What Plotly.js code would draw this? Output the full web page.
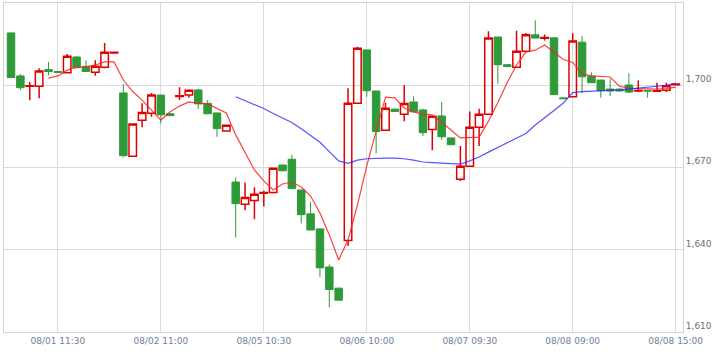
<!DOCTYPE html>
<html>
<head>
<meta charset="utf-8">
<script src="https://cdn.plot.ly/plotly-3.0.1.min.js"></script>
<style>
html,body{margin:0;padding:0;background:#fff;}
#chart{width:724px;height:363px;}
</style>
</head>
<body>
<div id="chart"></div>
<script>
// --- categories (30-minute bars) ---
const days = ['08/01','08/02','08/05','08/06','08/07','08/08'];
const slots = ['09:00','09:30','10:00','10:30','11:00','11:30','12:30','13:00','13:30','14:00','14:30','15:00'];
const times = [];
days.forEach(d => slots.forEach(s => times.push(d + ' ' + s)));

const tickLabels = ['08/01 11:30','08/02 11:00','08/05 10:30','08/06 10:00','08/07 09:30','08/08 09:00','08/08 15:00'];
const priceTicks = [1610, 1640, 1670, 1700];
const priceTickText = ['1,610','1,640','1,670','1,700'];

// --- OHLC values ---
const open = [1719.1,1703.4,1699.6,1699.6,1705.7,1705.0,1704.6,1710.3,1706.9,1704.7,1706.6,1711.8,
  1697.2,1674.1,1687.2,1689.8,1696.4,1689.6,1695.9,1696.4,1698.3,1693.4,1689.9,1683.3,
  1664.7,1656.6,1658.0,1660.6,1660.9,1670.9,1673.0,1661.8,1653.1,1647.6,1633.7,1626.0,
  1643.4,1693.4,1712.9,1697.9,1683.6,1691.3,1689.4,1693.9,1691.0,1683.9,1688.8,1680.8,
  1665.7,1670.5,1684.7,1689.4,1717.6,1707.5,1706.6,1712.4,1718.4,1717.1,1717.3,1695.4,
  1695.8,1715.7,1703.3,1701.9,1698.6,1698.6,1700.1,1697.9,1698.1,1697.8,1698.2,1700.2];
const high = [1719.1,1704.1,1701.2,1706.2,1708.5,1705.0,1711.4,1710.7,1709.1,1709.1,1715.4,1712.0,
  1700.4,1686.1,1693.4,1697.2,1696.4,1689.6,1699.3,1698.5,1698.7,1694.6,1689.9,1685.4,
  1666.4,1664.5,1662.8,1661.5,1669.7,1671.0,1674.6,1661.8,1657.5,1647.6,1634.7,1626.0,
  1698.9,1714.0,1712.9,1697.9,1693.6,1691.3,1700.0,1696.0,1691.5,1688.7,1693.9,1680.8,
  1677.8,1690.4,1691.4,1719.7,1717.6,1707.5,1719.9,1719.1,1723.7,1718.5,1717.3,1695.4,
  1719.0,1718.0,1704.7,1701.9,1702.3,1698.8,1704.4,1701.7,1698.1,1700.9,1700.9,1700.6];
const low = [1702.8,1698.2,1694.5,1695.3,1703.6,1704.6,1704.6,1706.4,1705.0,1703.5,1706.2,1711.8,
  1673.7,1674.1,1684.7,1688.5,1686.0,1688.9,1694.6,1695.4,1691.4,1689.4,1681.2,1683.3,
  1644.5,1654.4,1651.1,1655.8,1660.5,1668.6,1662.3,1649.6,1647.2,1630.1,1619.0,1621.6,
  1641.4,1693.4,1695.8,1675.2,1683.6,1690.4,1686.9,1690.3,1681.4,1676.3,1680.0,1678.3,
  1665.1,1670.5,1677.8,1689.4,1700.5,1706.8,1706.6,1712.4,1717.2,1716.3,1696.6,1695.1,
  1695.8,1697.1,1700.9,1695.5,1696.0,1697.7,1697.1,1697.5,1695.5,1697.6,1697.5,1700.1];
const close = [1702.8,1699.1,1699.8,1705.2,1705.0,1704.7,1710.6,1706.4,1705.0,1706.9,1712.0,1712.0,
  1674.3,1685.9,1690.1,1696.4,1689.2,1688.9,1696.2,1698.2,1693.2,1689.6,1684.2,1685.4,
  1656.8,1659.1,1660.2,1660.9,1669.7,1668.8,1662.3,1652.8,1647.2,1633.4,1625.5,1621.6,
  1693.4,1713.5,1698.0,1683.1,1691.6,1690.4,1693.3,1690.3,1682.7,1688.7,1681.2,1678.3,
  1670.5,1684.7,1689.4,1717.2,1707.5,1706.8,1712.4,1718.4,1717.2,1717.4,1696.6,1695.1,
  1716.1,1703.1,1700.9,1698.0,1697.9,1697.9,1697.5,1698.1,1697.9,1698.0,1699.8,1700.5];

// --- moving averages ---
const ma5 = [1702.6,1703.4,1705.5,1706.6,1706.7,1707.4,1708.5,1708.5,
  1701.9,1697.7,1694.6,1691.0,1687.3,1690.3,1692.4,1693.9,1693.4,1693.2,1691.7,1689.9,
  1681.9,1675.7,1669.1,1665.1,1661.8,1664.0,1664.7,1662.9,1659.6,1653.4,1645.4,1636.3,
  1643.6,1656.3,1670.6,1683.2,1695.7,1695.4,1691.7,1690.3,1689.5,1689.2,1686.6,1683.7,
  1680.8,1680.9,1681.1,1686.9,1693.6,1701.0,1707.4,1712.1,1712.8,1714.7,1712.2,1709.4,
  1708.3,1704.1,1703.4,1703.2,1703.0,1699.6,1699.0,1698.8,1698.6,1698.6,1698.8,1699.3];
const ma25 = [1695.8,1694.4,1692.9,1691.5,1689.7,1688.0,1686.4,1684.1,1681.7,1679.2,1675.8,1672.4,
  1671.5,1672.7,1673.2,1673.4,1673.4,1673.4,1673.2,1672.7,1672.0,1671.8,1671.6,1671.5,
  1671.2,1672.4,1673.8,1675.6,1677.3,1678.9,1680.8,1682.4,1685.5,1688.3,1690.8,1693.5,
  1697.3,1697.7,1697.8,1697.9,1698.0,1698.3,1698.6,1698.9,1699.2,1699.5,1700.0,1700.7];

const RED = '#e00000';
const GREEN = '#2f9a3a';

const traces = [
  {
    type: 'candlestick',
    x: times, open: open, high: high, low: low, close: close,
    increasing: {line: {color: RED, width: 1.5}, fillcolor: 'rgba(255,255,255,0)'},
    decreasing: {line: {color: GREEN, width: 1}, fillcolor: GREEN},
    whiskerwidth: 0,
    hoverinfo: 'skip',
    showlegend: false
  },
  {
    type: 'scatter', mode: 'lines',
    x: times.slice(times.length - ma5.length), y: ma5,
    line: {color: 'rgba(255,30,30,0.85)', width: 1.2},
    hoverinfo: 'skip', showlegend: false
  },
  {
    type: 'scatter', mode: 'lines',
    x: times.slice(times.length - ma25.length), y: ma25,
    line: {color: 'rgba(40,40,255,0.8)', width: 1.2},
    hoverinfo: 'skip', showlegend: false
  }
];

const layout = {
  width: 724, height: 363,
  margin: {l: 4, r: 41, t: 3, b: 31, pad: 0},
  paper_bgcolor: '#ffffff',
  plot_bgcolor: '#ffffff',
  boxgap: 0.2,
  boxgroupgap: 0,
  showlegend: false,
  font: {family: '"DejaVu Sans", Verdana, sans-serif', size: 9, color: '#707070'},
  xaxis: {
    type: 'category',
    range: [-0.75, 71.78],
    tickmode: 'array',
    tickvals: tickLabels,
    ticktext: tickLabels,
    ticks: '',
    showgrid: true, gridcolor: '#dadada', gridwidth: 1,
    showline: true, mirror: true, linecolor: '#d2d2d2', linewidth: 1,
    zeroline: false,
    rangeslider: {visible: false},
    tickfont: {family: '"DejaVu Sans", Verdana, sans-serif', size: 9, color: '#6f819c'},
    fixedrange: true
  },
  yaxis: {
    side: 'right',
    range: [1610, 1730],
    tickmode: 'array',
    tickvals: priceTicks,
    ticktext: priceTickText,
    ticks: '',
    ticklabelposition: 'outside top',
    showgrid: true, gridcolor: '#dadada', gridwidth: 1,
    showline: true, mirror: true, linecolor: '#d2d2d2', linewidth: 1,
    zeroline: false,
    tickfont: {family: '"DejaVu Sans", Verdana, sans-serif', size: 9, color: '#707070'},
    fixedrange: true
  }
};

Plotly.newPlot('chart', traces, layout, {displayModeBar: false, staticPlot: true});
</script>
</body>
</html>
